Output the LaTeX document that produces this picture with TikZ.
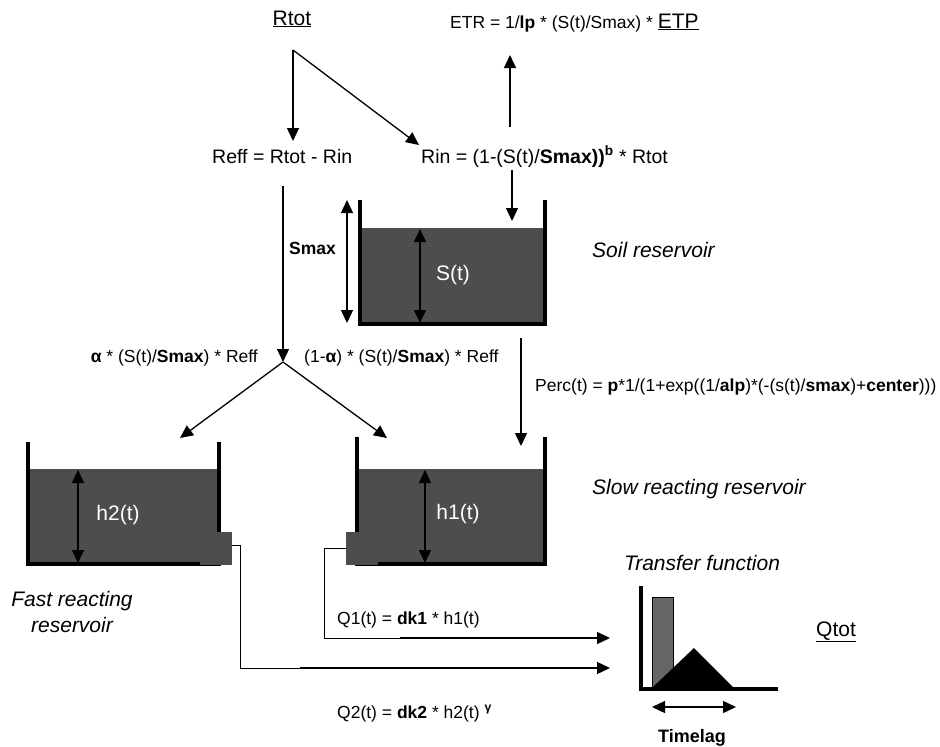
\documentclass[tikz,border=0pt]{standalone}
\usepackage{fontspec}
\setmainfont{Liberation Sans}
\usetikzlibrary{arrows.meta}
\definecolor{water}{HTML}{4D4D4D}
\definecolor{barc}{HTML}{666666}
\newcommand{\fsF}{\fontsize{17.5}{20}\selectfont}
\newcommand{\fsB}{\fontsize{19.5}{23}\selectfont}
\newcommand{\fsL}{\fontsize{21}{26}\selectfont}
\newcommand{\fsT}{\fontsize{18}{22}\selectfont}
\begin{document}
\begin{tikzpicture}[x=1pt,y=-1pt,
  arr/.style={line width=1.3pt,-{Triangle[length=13pt,width=12pt]}},
  darr/.style={line width=1.3pt,{Triangle[length=13pt,width=12pt]}-{Triangle[length=13pt,width=12pt]}},
  wall/.style={line width=3.5pt},
  pipe/.style={line width=0.9pt},
  lbl/.style={inner sep=0pt,font=\fsL},
  frm/.style={inner sep=0pt,font=\fsF},
  frmb/.style={inner sep=0pt,font=\fsB}]
\useasboundingbox (0,0) rectangle (940,747);

% ---------- texts ----------
\node[lbl,anchor=base] (rtot) at (292,25) {\underline{Rtot}};
\node[frm,anchor=base west] (etr) at (450,28) {ETR = 1/\textbf{lp} * (S(t)/Smax) * {\fsL\underline{ETP}}};
\node[frmb,anchor=base west] (reff) at (212,163) {Reff = Rtot - Rin};
\node[frmb,anchor=base west] (rin) at (421,163) {Rin = (1-(S(t)/\textbf{Smax))}\textsuperscript{\textbf{b}} * Rtot};
\node[frm,anchor=base east] (smaxl) at (336,254) {\textbf{Smax}};
\node[lbl,anchor=base west] (soil) at (592,257) {\itshape Soil reservoir};
\node[frm,anchor=base east] (alpl) at (258,362) {\textbf{α} * (S(t)/\textbf{Smax}) * Reff};
\node[frm,anchor=base west] (alpr) at (304,362) {(1-\textbf{α}) * (S(t)/\textbf{Smax}) * Reff};
\node[frm,anchor=base west] (perc) at (535,391) {Perc(t) = \textbf{p}*1/(1+exp((1/\textbf{alp})*(-(s(t)/\textbf{smax})+\textbf{center})))};
\node[lbl,anchor=base west] (slow) at (592,494) {\itshape Slow reacting reservoir};
\node[lbl,align=center] (fast) at (72,612) {\itshape Fast reacting\\\itshape reservoir};
\node[frm,anchor=base west] (q1) at (337,624) {Q1(t) = \textbf{dk1} * h1(t)};
\node[frm,anchor=base west] (q2) at (337,718) {Q2(t) = \textbf{dk2} * h2(t) \textsuperscript{\textbf{γ}}};
\node[lbl,anchor=base] (tf) at (702,570) {\itshape Transfer function};
\node[inner sep=0pt,font=\fsT\bfseries,anchor=base] (tlag) at (692,742) {Timelag};
\node[lbl,anchor=base] (qtot) at (836,636) {\underline{Qtot}};

% ---------- top arrows ----------
\coordinate (apex) at (293,50);
\coordinate (tipReff) at (293,141);
\coordinate (tipRin) at (419,145);
\draw[arr] (apex) -- (tipReff);
\draw[arr] (apex) -- (tipRin);
\coordinate (etrS) at (510,127);
\coordinate (etrT) at (510,55);
\draw[arr] (etrS) -- (etrT);
\coordinate (rinS) at (512,170);
\coordinate (rinT) at (512,221);
\draw[arr] (rinS) -- (rinT);

% ---------- soil reservoir ----------
\fill[water] (360,228) rectangle (545,324);
\draw[wall] (360,200) -- (360,324) -- (545,324) -- (545,200);
\coordinate (stTop) at (420,229);
\coordinate (stBot) at (420,323);
\draw[darr] (stTop) -- (stBot);
\node[lbl,text=white,anchor=base] (st) at (453,280) {S(t)};
\coordinate (smTop) at (347,200);
\coordinate (smBot) at (347,323);
\draw[darr] (smTop) -- (smBot);

% ---------- Reff split ----------
\coordinate (reffS) at (283,186);
\coordinate (split) at (283,362);
\draw[arr] (reffS) -- (split);
\coordinate (tipFast) at (180,438);
\coordinate (tipSlow) at (387,438);
\draw[arr] (split) -- (tipFast);
\draw[arr] (split) -- (tipSlow);

% ---------- percolation ----------
\coordinate (percS) at (521,338);
\coordinate (percT) at (521,446);
\draw[arr] (percS) -- (percT);

% ---------- fast reservoir ----------
\fill[water] (28,469) rectangle (219,564);
\draw[wall] (28,442) -- (28,564) -- (219,564) -- (219,442);
\fill[water] (200,532) rectangle (232,565);
\coordinate (h2Top) at (78,470);
\coordinate (h2Bot) at (78,563);
\draw[darr] (h2Top) -- (h2Bot);
\node[lbl,text=white,anchor=base] (h2) at (118,520) {h2(t)};

% ---------- slow reservoir ----------
\fill[water] (357,469) rectangle (545,564);
\draw[wall] (357,437) -- (357,564) -- (545,564) -- (545,437);
\fill[water] (346,532) rectangle (378,565);
\coordinate (h1Top) at (425,470);
\coordinate (h1Bot) at (425,563);
\draw[darr] (h1Top) -- (h1Bot);
\node[lbl,text=white,anchor=base] (h1) at (458,519) {h1(t)};

% ---------- outflows ----------
\coordinate (outF) at (232,545);
\coordinate (q2T) at (610,668);
\draw[pipe] (outF) -- (240,545) -- (240,668) -- (600,668);
\draw[arr] (300,668) -- (q2T);
\coordinate (outS) at (346,548);
\coordinate (q1T) at (610,638);
\draw[pipe] (outS) -- (324,548) -- (324,638) -- (600,638);
\draw[arr] (400,638) -- (q1T);

% ---------- transfer function ----------
\fill[barc,draw=black,line width=0.6pt] (652,597) rectangle (673,688);
\fill[black] (652,688) -- (694,648) -- (734,688) -- cycle;
\draw[line width=4pt] (641,586) -- (641,689) -- (778,689);
\coordinate (tlL) at (652,707);
\coordinate (tlR) at (736,707);
\draw[darr] (tlL) -- (tlR);
\end{tikzpicture}
\end{document}
